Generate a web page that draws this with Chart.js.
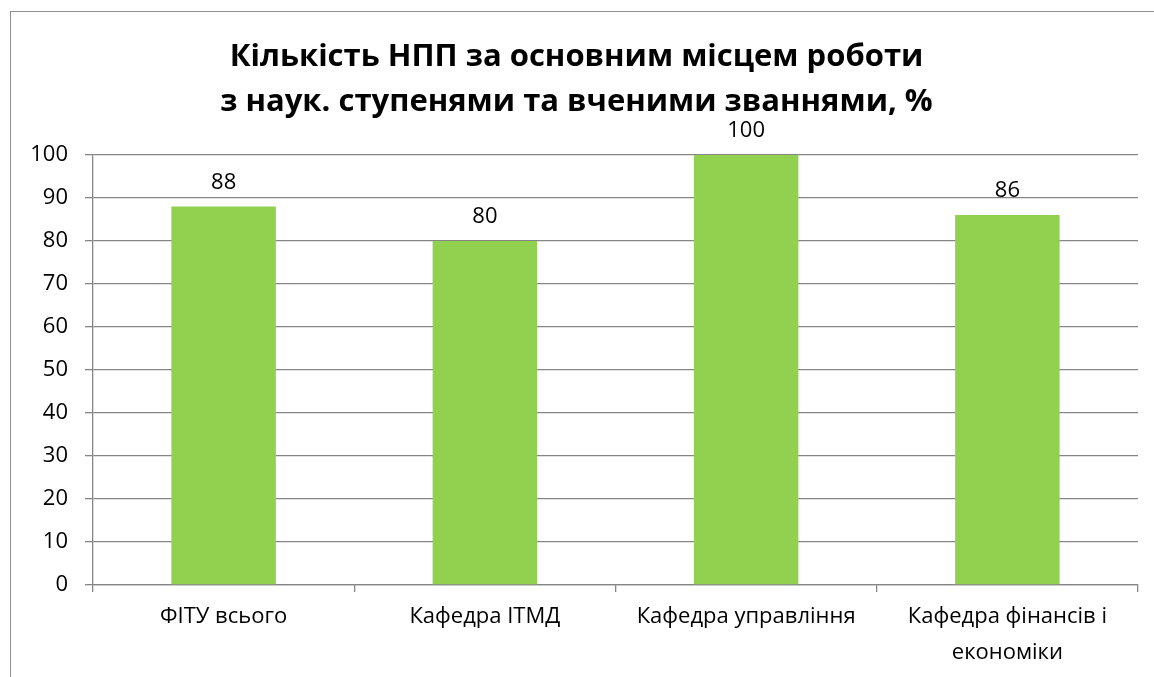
<!DOCTYPE html>
<html lang="uk">
<head>
    <meta charset="UTF-8">
    <title>Кількість НПП</title>
    <script src="https://cdn.jsdelivr.net/npm/chart.js"></script>
    <style>
        html, body { margin: 0; padding: 0; background: #fff; overflow: hidden; }
        .ramka {
            position: absolute; left: 10px; top: 11px;
            width: 1200px; height: 700px;
            border: 1.5px solid #8e8e8e;
        }
        .grafik { position: absolute; left: 0; top: 0; width: 1154px; height: 677px; }
    </style>
</head>
<body>
    <div class="ramka"></div>
    <div class="grafik">
        <canvas id="myChart" width="1154" height="677"></canvas>
    </div>
<script>
    const kategorii = ['ФІТУ всього', 'Кафедра ІТМД', 'Кафедра управління', ['Кафедра фінансів і', 'економіки']]
    const znachennya = [88, 80, 100, 86]
    const yMin = 0
    const yMax = 100
    const yKrok = 10
    const nazva = ['Кількість НПП за основним місцем роботи', 'з наук. ступенями та вченими званнями, %']

    const shrift = "'Open Sans', 'Liberation Sans', sans-serif"
    const sira = '#868686'

    // підписи значень над стовпчиками
    const pidpysy = {
        id: 'pidpysy',
        afterDatasetsDraw(chart) {
            const ctx = chart.ctx
            const meta = chart.getDatasetMeta(0)
            ctx.save()
            ctx.font = '22px ' + shrift
            ctx.fillStyle = '#000'
            ctx.textAlign = 'center'
            ctx.textBaseline = 'middle'
            meta.data.forEach((bar, i) => {
                ctx.fillText(String(znachennya[i]), bar.x, bar.y - 24)
            })
            ctx.restore()
        }
    }

    const ctx = document.getElementById('myChart')

    const grafik = new Chart(ctx, {
        type: 'bar',
        data: {
            labels: kategorii,
            datasets: [{
                data: znachennya,
                backgroundColor: '#92D050',
                borderWidth: 0,
                barPercentage: 0.4,
                categoryPercentage: 1
            }]
        },
        options: {
            responsive: false,
            animation: false,
            layout: { padding: { left: 15, right: 16, top: 0, bottom: 0 } },
            plugins: {
                legend: { display: false },
                tooltip: { enabled: false },
                title: {
                    display: true,
                    text: nazva,
                    color: '#000',
                    font: { family: shrift, size: 31, weight: 'bold', lineHeight: 1.45 },
                    padding: { top: 35, bottom: 30 }
                }
            },
            scales: {
                x: {
                    grid: {
                        offset: true,
                        drawOnChartArea: false,
                        drawTicks: true,
                        tickLength: 7,
                        color: sira,
                        lineWidth: 1.3
                    },
                    border: { color: sira, width: 1.3 },
                    ticks: {
                        color: '#000',
                        font: { family: shrift, size: 22, lineHeight: 1.64 },
                        padding: 7,
                        maxRotation: 0,
                        autoSkip: false
                    },
                    afterFit(scale) { scale.height = 92 }
                },
                y: {
                    min: yMin,
                    max: yMax,
                    grid: {
                        color: sira,
                        lineWidth: 1.3,
                        tickLength: 8
                    },
                    border: { color: sira, width: 1.3 },
                    ticks: {
                        stepSize: yKrok,
                        color: '#000',
                        font: { family: shrift, size: 22 },
                        padding: 17
                    },
                    afterFit(scale) { scale.width = 78 }
                }
            }
        },
        plugins: [pidpysy]
    })
</script>
</body>
</html>
